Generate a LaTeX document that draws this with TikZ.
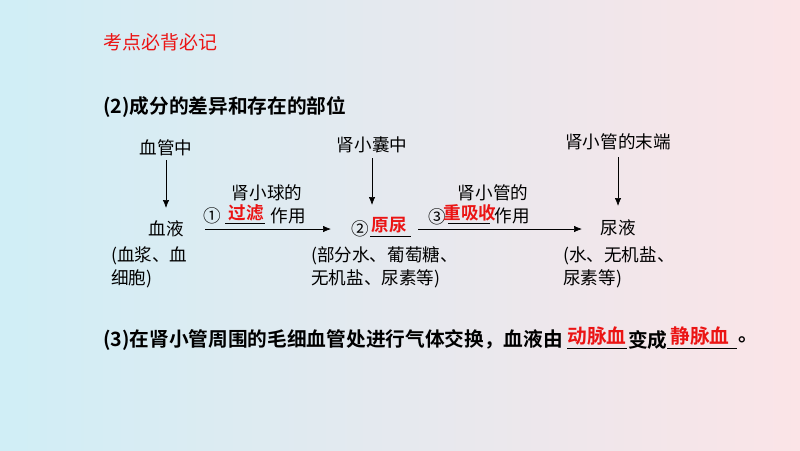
\documentclass[tikz,border=0pt]{standalone}
\usepackage{fontspec}
\setmainfont{Noto Sans CJK SC}[BoldFont={Noto Sans CJK SC Bold}]
\usetikzlibrary{arrows.meta,positioning}
\definecolor{bgleft}{RGB}{208,238,246}
\definecolor{bgright}{RGB}{251,228,231}
\definecolor{keyred}{RGB}{235,20,20}
\tikzset{
  >={Latex[length=2mm,width=1.6mm]},
  txt/.style={inner sep=0pt, font=\fontsize{12.5}{16.4}\selectfont},
  multi/.style={txt, align=left, anchor=north west},
  head/.style={inner sep=0pt, anchor=west, font=\fontsize{14}{16}\selectfont\bfseries},
  key/.style={txt, text=keyred, font=\fontsize{12.5}{16}\selectfont\bfseries},
  flow/.style={->, line width=0.5pt},
  blank/.style={line width=0.6pt},
}
\begin{document}
\begin{tikzpicture}[x=0.025cm, y=-0.025cm]
  \fill[left color=bgleft, right color=bgright] (0,0) rectangle (800,450);
  \useasboundingbox (0,0) rectangle (800,450);

  \node[head, text=keyred, font=\fontsize{13.5}{16}\selectfont] (title) at (103,42) {考点必背必记};
  \node[head] (part2) at (103,107) {(2)成分的差异和存在的部位};

  % 血管 -> 血液
  \node[txt] (vessel) at (166,148) {血管中};
  \node[txt] (blood) at (166,229) {血液};
  \node[multi] (bloodinfo) at (111,246) {(血浆、血\\细胞)};
  \coordinate (a0s) at (166,160);
  \draw[flow] (a0s) -- (166,208);

  % 过滤
  \node[txt] (glom) at (267,193) {肾小球的};
  \node[txt] (n1) at (212,216) {①};
  \node[key] (filter) at (246,213) {过滤};
  \node[txt] (act1) at (288,216) {作用};
  \draw[blank] (225,223) -- (265,223);
  \coordinate (a1s) at (205,229);
  \coordinate (a1e) at (331,229);
  \draw[flow] (a1s) -- (a1e);

  % 肾小囊 -> 原尿
  \node[txt] (capsule) at (372,145) {肾小囊中};
  \node[txt] (n2) at (360,229) {②};
  \node[key] (primary) at (389,225) {原尿};
  \draw[blank] (370,236) -- (411,236);
  \node[multi] (primaryinfo) at (311,246) {(部分水、葡萄糖、\\无机盐、尿素等)};
  \coordinate (a2s) at (372,158);
  \coordinate (a2e) at (372,205);
  \draw[flow] (a2s) -- (a2e);

  % 重吸收
  \node[txt] (tubule) at (493,193) {肾小管的};
  \node[txt] (n3) at (437,217) {③};
  \node[key] (reabs) at (470,213) {重吸收};
  \node[txt] (act2) at (512,216) {作用};
  \draw[blank] (448,223) -- (490,223);
  \coordinate (a3s) at (418,229);
  \coordinate (a3e) at (582,229);
  \draw[flow] (a3s) -- (a3e);

  % 末端 -> 尿液
  \node[txt] (tubend) at (618,142) {肾小管的末端};
  \node[txt] (urine) at (618,228) {尿液};
  \node[multi] (urineinfo) at (563,246) {(水、无机盐、\\尿素等)};
  \coordinate (a4s) at (618,157);
  \coordinate (a4e) at (618,206);
  \draw[flow] (a4s) -- (a4e);

  % (3)
  \node[head] (part3) at (103,340) {(3)在肾小管周围的毛细血管处进行气体交换，血液由};
  \node[key, font=\fontsize{14}{16}\selectfont\bfseries] (artery) at (597,336) {动脉血};
  \node[head] (become) at (628,340) {变成};
  \node[key, font=\fontsize{14}{16}\selectfont\bfseries] (vein) at (700,336) {静脉血};
  \node[head] (stop) at (738,340) {。};
  \draw[blank] (567,348) -- (627,348);
  \draw[blank] (667,348) -- (737,348);
\end{tikzpicture}
\end{document}
